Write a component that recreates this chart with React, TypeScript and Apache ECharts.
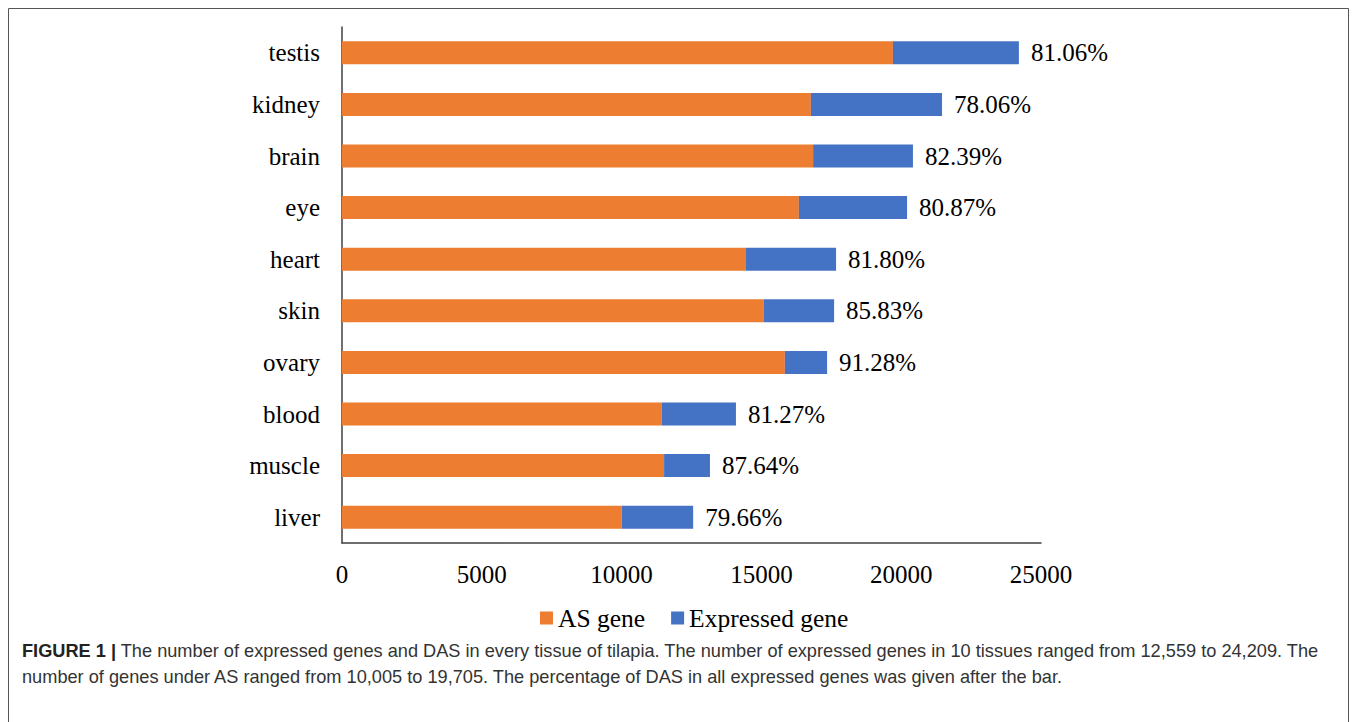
import React, { useEffect, useRef } from "react";
import * as echarts from "echarts";

const tissues = ["liver", "muscle", "blood", "ovary", "skin", "heart", "eye", "brain", "kidney", "testis"];
const asGenes = [10005, 11520, 11440, 15840, 15090, 14450, 16340, 16850, 16770, 19705];
const expressedGenes = [12559, 13160, 14090, 17350, 17600, 17670, 20210, 20420, 21460, 24209];
const percentLabels = ["79.66%", "87.64%", "81.27%", "91.28%", "85.83%", "81.80%", "80.87%", "82.39%", "78.06%", "81.06%"];
const xTicks = [0, 5000, 10000, 15000, 20000, 25000];

const captionLine1 = "The number of expressed genes and DAS in every tissue of tilapia. The number of expressed genes in 10 tissues ranged from 12,559 to 24,209. The";
const captionLine2 = "number of genes under AS ranged from 10,005 to 19,705. The percentage of DAS in all expressed genes was given after the bar.";

const SERIF = "'Liberation Serif', 'Times New Roman', serif";
const SANS = "'Liberation Sans Narrow', 'Liberation Sans', Arial, sans-serif";
const FS = 25;

export default function App() {
  const ref = useRef<HTMLDivElement>(null);
  useEffect(() => {
    if (!ref.current) return;
    const chart = echarts.init(ref.current, null, { renderer: "svg" });
    const extra = expressedGenes.map((v, i) => v - asGenes[i]);
    chart.setOption({
      animation: false,
      backgroundColor: "#fff",
      grid: { left: 342, right: 316, top: 27, bottom: 179, containLabel: false },
      legend: {
        data: ["AS gene", "Expressed gene"],
        top: 600,
        left: 535,
        itemWidth: 13,
        itemHeight: 13,
        itemGap: 26,
        icon: "rect",
        textStyle: { fontFamily: SERIF, fontSize: 25.5, color: "#000" },
      },
      xAxis: {
        type: "value",
        min: 0,
        max: 25000,
        interval: 5000,
        axisLine: { show: true, lineStyle: { color: "#404040", width: 1.5 } },
        axisTick: { show: false },
        splitLine: { show: false },
        axisLabel: {
          fontFamily: SERIF,
          fontSize: FS,
          color: "#000",
          margin: 19,
          formatter: (v: number) => (xTicks.includes(v) ? String(v) : ""),
        },
      },
      yAxis: {
        type: "category",
        data: tissues,
        axisLine: { show: true, lineStyle: { color: "#404040", width: 1.5 } },
        axisTick: { show: false },
        axisLabel: { fontFamily: SERIF, fontSize: FS, color: "#000", margin: 22 },
      },
      series: [
        {
          name: "AS gene",
          type: "bar",
          stack: "total",
          data: asGenes,
          barWidth: 23,
          itemStyle: { color: "#ED7D31" },
        },
        {
          name: "Expressed gene",
          type: "bar",
          stack: "total",
          data: extra,
          barWidth: 23,
          itemStyle: { color: "#4472C4" },
          label: {
            show: true,
            position: "right",
            distance: 12,
            fontFamily: SERIF,
            fontSize: FS,
            color: "#000",
            formatter: (p: any) => percentLabels[p.dataIndex],
          },
        },
      ],
      graphic: [
        {
          type: "rect",
          shape: { x: 8.5, y: 8.5, width: 1340, height: 760 },
          style: { fill: "none", stroke: "#555", lineWidth: 1 },
          silent: true,
        },
        {
          type: "text",
          left: 22,
          top: 642,
          style: {
            text: "{b|FIGURE 1 |} " + captionLine1,
            fontFamily: SANS,
            fontSize: 18.2,
            fill: "#333",
            rich: {
              b: { fontFamily: SANS, fontSize: 18.2, fontWeight: "bold", fill: "#222" },
            },
          },
        },
        {
          type: "text",
          left: 22,
          top: 668,
          style: {
            text: captionLine2,
            fontFamily: SANS,
            fontSize: 18.2,
            fill: "#333",
          },
        },
      ],
    });
    return () => chart.dispose();
  }, []);
  return (
    <div
      ref={ref}
      style={{ position: "absolute", left: 0, top: 0, width: 1357, height: 722 }}
    />
  );
}
